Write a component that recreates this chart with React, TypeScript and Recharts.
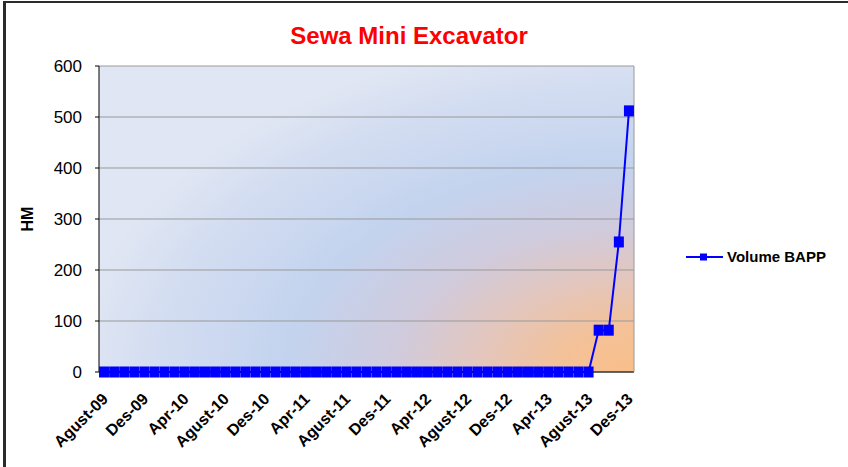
import React from "react";
import {
  CartesianGrid,
  Line,
  LineChart,
  XAxis,
  YAxis,
} from "recharts";

const FONT = '"Liberation Sans", Arial, Helvetica, sans-serif';
const BLUE = "#0000ff";

// Agust-09 .. Des-13, one entry per month
const months = [
  "Agust-09", "Sep-09", "Okt-09", "Nov-09", "Des-09",
  "Jan-10", "Feb-10", "Mar-10", "Apr-10", "Mei-10", "Jun-10", "Jul-10", "Agust-10", "Sep-10", "Okt-10", "Nov-10", "Des-10",
  "Jan-11", "Feb-11", "Mar-11", "Apr-11", "Mei-11", "Jun-11", "Jul-11", "Agust-11", "Sep-11", "Okt-11", "Nov-11", "Des-11",
  "Jan-12", "Feb-12", "Mar-12", "Apr-12", "Mei-12", "Jun-12", "Jul-12", "Agust-12", "Sep-12", "Okt-12", "Nov-12", "Des-12",
  "Jan-13", "Feb-13", "Mar-13", "Apr-13", "Mei-13", "Jun-13", "Jul-13", "Agust-13", "Sep-13", "Okt-13", "Nov-13", "Des-13",
];

const volumeBapp = [
  0, 0, 0, 0, 0,
  0, 0, 0, 0, 0, 0, 0, 0, 0, 0, 0, 0,
  0, 0, 0, 0, 0, 0, 0, 0, 0, 0, 0, 0,
  0, 0, 0, 0, 0, 0, 0, 0, 0, 0, 0, 0,
  0, 0, 0, 0, 0, 0, 0, 0, 82, 82, 255, 512,
];

const yTicks = [0, 100, 200, 300, 400, 500, 600];

const data = months.map((month, i) => ({ month, volume: volumeBapp[i] }));

function MonthTick({ x, y, payload }: any) {
  return (
    <g transform={`translate(${x + 1},${y + 24})`}>
      <text
        x={0}
        y={0}
        dy="0.35em"
        textAnchor="end"
        transform="rotate(-45)"
        fontFamily={FONT}
        fontWeight="bold"
        fontSize={16}
        fill="#000"
      >
        {payload.value}
      </text>
    </g>
  );
}

function SquareDot({ cx, cy, index }: any) {
  return <rect key={`dot-${index}`} x={cx - 5} y={cy - 5.5} width={10} height={11} fill={BLUE} />;
}

export default function App() {
  return (
    <div style={{ position: "absolute", left: 0, top: 0, width: 848, height: 467, background: "#fff" }}>
      <svg width={0} height={0} style={{ position: "absolute" }}>
        <defs>
          <radialGradient
            id="plotBg"
            gradientUnits="userSpaceOnUse"
            cx={634}
            cy={372}
            r={560}
            gradientTransform="translate(634,372) scale(1,0.6) translate(-634,-372)"
          >
            <stop offset="0%" stopColor="#f9bf8a" />
            <stop offset="13%" stopColor="#f4c197" />
            <stop offset="28%" stopColor="#e3c6bd" />
            <stop offset="43%" stopColor="#d0cbdd" />
            <stop offset="62%" stopColor="#c3d3ee" />
            <stop offset="85%" stopColor="#d3ddf1" />
            <stop offset="100%" stopColor="#e0e6f3" />
          </radialGradient>
        </defs>
      </svg>
      <div
        style={{
          position: "absolute",
          left: 3,
          top: 1,
          width: 845,
          height: 466,
          borderTop: "2px solid #2b2b2b",
          borderLeft: "3px solid #2b2b2b",
          boxSizing: "border-box",
        }}
      />
      <div
        style={{
          position: "absolute",
          left: 0,
          top: 24,
          width: 818,
          textAlign: "center",
          fontFamily: FONT,
          fontWeight: "bold",
          fontSize: 24,
          lineHeight: "24px",
          color: "#ff0000",
        }}
      >
        Sewa Mini Excavator
      </div>
      <LineChart
        width={848}
        height={467}
        data={data}
        margin={{ top: 66, right: 213, bottom: 0, left: 0 }}
        style={{ position: "absolute", left: 0, top: 0 }}
      >
        <CartesianGrid vertical={false} stroke="#999999" fill="url(#plotBg)" />
        <XAxis
          dataKey="month"
          scale="band"
          interval={3}
          height={95}
          tickLine={false}
          tickSize={0}
          tickMargin={0}
          axisLine={{ stroke: "#000" }}
          tick={<MonthTick />}
        />
        <YAxis
          width={99}
          domain={[0, 600]}
          ticks={yTicks}
          tickSize={4}
          tickMargin={13}
          tickLine={{ stroke: "#000" }}
          axisLine={{ stroke: "#000" }}
          tick={{ fontSize: 17, fill: "#000", fontFamily: FONT }}
          label={{
            content: ({ viewBox }: any) => {
              const cx = viewBox.x + 27;
              const cy = viewBox.y + viewBox.height / 2;
              return (
                <text
                  x={cx}
                  y={cy}
                  transform={`rotate(-90,${cx},${cy})`}
                  textAnchor="middle"
                  dominantBaseline="central"
                  fontFamily={FONT}
                  fontWeight="bold"
                  fontSize={16}
                  fill="#000"
                >
                  HM
                </text>
              );
            },
          }}
        />
        <YAxis
          yAxisId="edge"
          orientation="right"
          width={1}
          domain={[0, 600]}
          tick={false}
          tickLine={false}
          axisLine={{ stroke: "#999999" }}
        />
        <Line
          type="linear"
          dataKey="volume"
          name="Volume BAPP"
          stroke={BLUE}
          strokeWidth={2}
          dot={<SquareDot />}
          activeDot={false}
          isAnimationActive={false}
        />
      </LineChart>
      <div
        style={{
          position: "absolute",
          left: 686,
          top: 248,
          display: "flex",
          alignItems: "center",
          fontFamily: FONT,
          fontWeight: "bold",
          fontSize: 15,
        }}
      >
        <svg width={37} height={10}>
          <line x1={0} y1={5} x2={37} y2={5} stroke={BLUE} strokeWidth={2} />
          <rect x={14} y={1.5} width={7} height={7} fill={BLUE} />
        </svg>
        <span style={{ marginLeft: 4, color: "#000" }}>Volume BAPP</span>
      </div>
    </div>
  );
}
